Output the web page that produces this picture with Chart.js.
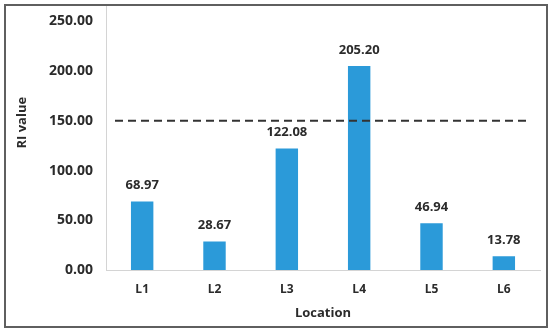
<!DOCTYPE html>
<html>
<head>
<meta charset="utf-8">
<script src="https://cdn.jsdelivr.net/npm/chart.js@4.4.1/dist/chart.umd.min.js"></script>
<style>
    html, body { margin: 0; padding: 0; background: #fff; }
    #wrap { position: relative; width: 550px; height: 331px; }
    #frame {
        position: absolute; left: 4px; top: 4px; width: 540px; height: 320px;
        border: 2px solid #5f5f5f; pointer-events: none;
    }
</style>
</head>
<body>
<div id="wrap">
    <canvas id="riChart" width="550" height="331"></canvas>
    <div id="frame"></div>
</div>
<script>
// Chart data
const locations = ['L1', 'L2', 'L3', 'L4', 'L5', 'L6'];
const riValues = [68.97, 28.67, 122.08, 205.20, 46.94, 13.78];
const thresholdValue = 150;
const yTicks = [0, 50, 100, 150, 200, 250];
const yTitle = 'RI value';

const textColor = '#2b2b2b';
const barColor = '#2b9ad9';

// Value labels above the bars
const valueLabels = {
    id: 'valueLabels',
    afterDatasetsDraw(chart) {
        const ctx = chart.ctx;
        const meta = chart.getDatasetMeta(0);
        ctx.save();
        ctx.font = 'bold 13px "Open Sans"';
        ctx.fillStyle = textColor;
        ctx.textAlign = 'center';
        ctx.textBaseline = 'middle';
        meta.data.forEach((bar, i) => {
            ctx.fillText(riValues[i].toFixed(2), bar.x, bar.y - 16);
        });
        ctx.restore();
    }
};

// Dashed threshold line, y axis line extension and y title
const thresholdLine = {
    id: 'thresholdLine',
    afterDatasetsDraw(chart) {
        const ctx = chart.ctx;
        const area = chart.chartArea;
        const y = chart.scales.y.getPixelForValue(thresholdValue);
        ctx.save();
        ctx.strokeStyle = '#333';
        ctx.lineWidth = 2;
        ctx.setLineDash([8, 5]);
        ctx.beginPath();
        ctx.moveTo(area.left + 9, y);
        ctx.lineTo(area.right - 13, y);
        ctx.stroke();
        ctx.setLineDash([]);
        ctx.strokeStyle = '#d4d4d4';
        ctx.lineWidth = 1;
        ctx.beginPath();
        ctx.moveTo(area.left + 0.5, 6);
        ctx.lineTo(area.left + 0.5, area.top);
        ctx.stroke();

        // y title, sits a bit above the plot middle like the original
        ctx.translate(22, (area.top + area.bottom) / 2 - 23);
        ctx.rotate(-Math.PI / 2);
        ctx.font = 'bold 13px "Open Sans"';
        ctx.fillStyle = textColor;
        ctx.textAlign = 'center';
        ctx.textBaseline = 'middle';
        ctx.fillText(yTitle, 0, 0);
        ctx.restore();
    }
};

new Chart(document.getElementById('riChart'), {
    type: 'bar',
    data: {
        labels: locations,
        datasets: [{
            data: riValues,
            backgroundColor: barColor,
            barPercentage: 0.31,
            categoryPercentage: 1
        }]
    },
    options: {
        responsive: false,
        animation: false,
        layout: { padding: { top: 17, right: 10, bottom: 0, left: 0 } },
        plugins: { legend: { display: false }, tooltip: { enabled: false } },
        scales: {
            x: {
                grid: { display: false, drawTicks: false },
                border: { color: '#d4d4d4', width: 1 },
                ticks: { color: textColor, font: { family: 'Open Sans', size: 12, weight: 'bold' }, padding: 12 },
                title: { display: true, text: 'Location', color: textColor, font: { family: 'Open Sans', size: 13, weight: 'bold' }, padding: { top: 4, bottom: 10 } },
                afterFit(scale) { scale.height = 61; }
            },
            y: {
                min: 0,
                max: 250,
                afterBuildTicks(scale) { scale.ticks = yTicks.map(v => ({ value: v })); },
                grid: { display: false, drawTicks: false },
                border: { color: '#d4d4d4', width: 1 },
                ticks: {
                    color: textColor,
                    font: { family: 'Open Sans', size: 14, weight: 'bold' },
                    padding: 13,
                    callback: v => Number(v).toFixed(2)
                },
                afterFit(scale) { scale.width = 106; }
            }
        }
    },
    plugins: [valueLabels, thresholdLine]
});
</script>
</body>
</html>
